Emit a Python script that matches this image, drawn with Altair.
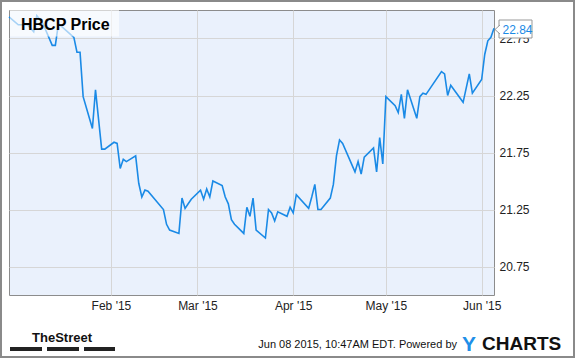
import altair as alt
import pandas as pd

# ---- data ----
dates = [
    "2014-12-30", "2015-01-02", "2015-01-05", "2015-01-07", "2015-01-08", "2015-01-10",
    "2015-01-13", "2015-01-14", "2015-01-15", "2015-01-20", "2015-01-21", "2015-01-22",
    "2015-01-23", "2015-01-26", "2015-01-27", "2015-01-29", "2015-01-30",
    "2015-02-02", "2015-02-03", "2015-02-04", "2015-02-05", "2015-02-06", "2015-02-09",
    "2015-02-10", "2015-02-11", "2015-02-12", "2015-02-13", "2015-02-18", "2015-02-19",
    "2015-02-20", "2015-02-23", "2015-02-24", "2015-02-25", "2015-02-26", "2015-02-27",
    "2015-03-02", "2015-03-03", "2015-03-04", "2015-03-05", "2015-03-06", "2015-03-09",
    "2015-03-10", "2015-03-11", "2015-03-12", "2015-03-13", "2015-03-16", "2015-03-17",
    "2015-03-18", "2015-03-19", "2015-03-20", "2015-03-23", "2015-03-24", "2015-03-25",
    "2015-03-26", "2015-03-27", "2015-03-30", "2015-03-31",
    "2015-04-01", "2015-04-02", "2015-04-06", "2015-04-07", "2015-04-08", "2015-04-09",
    "2015-04-10", "2015-04-13", "2015-04-14", "2015-04-15", "2015-04-16", "2015-04-17",
    "2015-04-21", "2015-04-22", "2015-04-23", "2015-04-24", "2015-04-27", "2015-04-28",
    "2015-04-29", "2015-04-30",
    "2015-05-01", "2015-05-04", "2015-05-05", "2015-05-06", "2015-05-07", "2015-05-08",
    "2015-05-11", "2015-05-12", "2015-05-13", "2015-05-14", "2015-05-19", "2015-05-20",
    "2015-05-21", "2015-05-22", "2015-05-26", "2015-05-28", "2015-05-29",
    "2015-06-01", "2015-06-02", "2015-06-03", "2015-06-04", "2015-06-05",
]
prices = [
    22.94, 22.87, 22.87, 22.81, 22.95, 22.88,
    22.69, 22.69, 22.88, 22.76, 22.63, 22.63,
    22.24, 21.96, 22.30, 21.78, 21.78,
    21.84, 21.83, 21.61, 21.69, 21.67, 21.72,
    21.48, 21.36, 21.42, 21.41, 21.25, 21.12,
    21.07, 21.04, 21.35, 21.26, 21.30, 21.34,
    21.42, 21.34, 21.43, 21.36, 21.50, 21.46,
    21.36, 21.30, 21.16, 21.12, 21.04, 21.27,
    21.19, 21.35, 21.07, 21.00, 21.25, 21.22,
    21.15, 21.23, 21.19, 21.27,
    21.22, 21.38, 21.26, 21.36, 21.47, 21.25,
    21.25, 21.35, 21.47, 21.72, 21.86, 21.83,
    21.58, 21.67, 21.56, 21.71, 21.79, 21.58,
    21.88, 21.65,
    22.24, 22.16, 22.10, 22.26, 22.05, 22.30,
    22.05, 22.24, 22.27, 22.26, 22.46, 22.44,
    22.25, 22.34, 22.19, 22.44, 22.27,
    22.39, 22.61, 22.73, 22.76, 22.84,
]
y_ticks = [20.75, 21.25, 21.75, 22.25, 22.75]
x_ticks = [(2015, 2), (2015, 3), (2015, 4), (2015, 5), (2015, 6)]
title_text = ["HBCP Price"]
footer_text = ["Jun 08 2015, 10:47AM EDT. Powered by"]
brand_left = ["TheStreet"]
brand_y = ["Y"]
brand_rest = ["CHARTS"]

df = pd.DataFrame({"date": dates, "price": prices})
last = df.tail(1).assign(label=lambda d: d["price"].map(lambda v: f"{v:.2f}"))

FONT = "Liberation Sans"
LINE_BLUE = "#1a8ae6"

x_enc = alt.X(
    "date:T",
    scale=alt.Scale(
        type="utc",
        domain=[alt.DateTime(year=2014, month=12, date=30, utc=True),
                alt.DateTime(year=2015, month=6, date=5, utc=True)],
    ),
    axis=alt.Axis(
        values=[alt.DateTime(year=y, month=m, date=1, utc=True) for y, m in x_ticks],
        format="%b '%y", title=None, ticks=False, domain=False,
        labelFont=FONT, labelFontSize=12, labelColor="#222222", labelPadding=5,
        gridColor="#d6d6d6", gridWidth=1, labelFlush=False,
    ),
)
y_enc = alt.Y(
    "price:Q",
    scale=alt.Scale(domain=[20.5, 23.0], nice=False, zero=False),
    axis=alt.Axis(
        orient="right", values=y_ticks, format=".2f", title=None, ticks=False,
        domain=False, labelFont=FONT, labelFontSize=12, labelColor="#222222",
        labelPadding=5, gridColor="#d6d6d6", gridWidth=1,
    ),
)

line = alt.Chart(df).mark_line(color=LINE_BLUE, strokeWidth=1.6).encode(x=x_enc, y=y_enc)

one = pd.DataFrame({"k": [0]})

title_box = alt.Chart(one).mark_rect(color="white", opacity=0.62).encode(
    x=alt.value(1), x2=alt.value(110), y=alt.value(0), y2=alt.value(26.5))
title_mark = alt.Chart(pd.DataFrame({"t": title_text})).mark_text(
    font=FONT, fontSize=16, fontWeight="bold", color="#000000", align="left",
    baseline="alphabetic").encode(text="t:N", x=alt.value(12), y=alt.value(19.5))

val_box = alt.Chart(one).mark_rect(fill="white", stroke="#999999", strokeWidth=1).encode(
    x=alt.value(490), x2=alt.value(523), y=alt.value(10), y2=alt.value(28))
val_cover = alt.Chart(one).mark_point(
    shape="M1,-1.8L-1,0L1,1.8Z", filled=True, fill="white", strokeWidth=0, opacity=1,
    size=25).encode(x=alt.value(488.5), y=alt.value(19.5))
val_chevron = alt.Chart(one).mark_point(
    shape="M1,-1.8L-1,0L1,1.8", filled=False, stroke="#999999", strokeWidth=1, opacity=1,
    size=25).encode(x=alt.value(488.5), y=alt.value(19.5))
val_text = alt.Chart(last).mark_text(
    font=FONT, fontSize=12, color=LINE_BLUE, align="left", baseline="middle", dy=1.5
).encode(text="label:N", x=alt.value(493.5), y=alt.Y("price:Q"))

frame = alt.Chart(one).mark_rect(fill=None, stroke="#8a8a8a", strokeWidth=2).encode(
    x=alt.value(-8), x2=alt.value(565), y=alt.value(-9), y2=alt.value(347))

street = alt.Chart(pd.DataFrame({"t": brand_left})).mark_text(
    font=FONT, fontSize=13, fontWeight="bold", color="#111111",
    align="center", baseline="alphabetic").encode(text="t:N", x=alt.value(53), y=alt.value(332))
street_bars = alt.Chart(one).mark_rule(color="#222222", strokeWidth=4, strokeDash=[32, 5]).encode(
    x=alt.value(1), x2=alt.value(106), y=alt.value(339))
footer = alt.Chart(pd.DataFrame({"t": footer_text})).mark_text(
    font=FONT, fontSize=11, color="#111111", align="right", baseline="alphabetic"
).encode(text="t:N", x=alt.value(448), y=alt.value(338))
logo_y = alt.Chart(pd.DataFrame({"t": brand_y})).mark_text(
    font=FONT, fontSize=21, fontWeight="bold", color="#1f8fe8", align="left",
    baseline="alphabetic").encode(text="t:N", x=alt.value(453), y=alt.value(340.5))
logo_rest = alt.Chart(pd.DataFrame({"t": brand_rest})).mark_text(
    font=FONT, fontSize=19, fontWeight="bold", color="#111111", align="left",
    baseline="alphabetic").encode(text="t:N", x=alt.value(473), y=alt.value(340))

chart = alt.layer(
    line, title_box, title_mark, val_box, val_cover, val_chevron, val_text,
    frame, street, street_bars, footer, logo_y, logo_rest,
).properties(
    width=485, height=285,
    autosize=alt.AutoSizeParams(type="none"),
    padding={"left": 9, "top": 10, "right": 81, "bottom": 63},
    background="white",
).configure_view(
    fill="#eaf1fc", stroke="#8c8c8c", strokeWidth=1,
)

chart.save("out.html", embed_options={"renderer": "svg", "actions": False})
